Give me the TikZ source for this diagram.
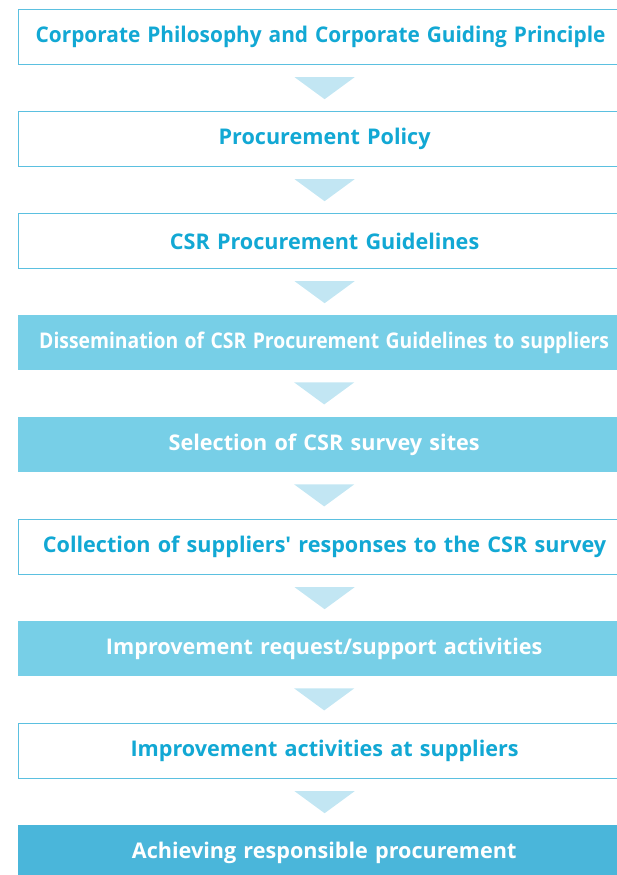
\documentclass[tikz,border=0pt]{standalone}
\usepackage{fontspec}
\setmainfont{Open Sans}
\usetikzlibrary{calc}
\definecolor{txtblue}{HTML}{12A8D4}
\definecolor{lineblue}{HTML}{5BC0E0}
\definecolor{fillblue}{HTML}{77CFE7}
\definecolor{darkblue}{HTML}{4AB6DA}
\definecolor{triblue}{HTML}{C2E6F3}
\tikzset{
  box/.style={anchor=north west, minimum width=612pt, minimum height=55pt, inner sep=0pt,
    text width=612pt, align=center, font=\fontsize{21.6}{26}\selectfont\bfseries},
  openbox/.style={box, draw=lineblue, line width=1.2pt, fill=white, text=txtblue},
  fillbox/.style={box, fill=fillblue, text=white},
  endbox/.style={box, fill=darkblue, text=white},
  tri/.style={fill=triblue}
}
\newcommand{\downtri}[1]{\fill[tri] ($(#1.south)+(-30,12)$) -- ($(#1.south)+(30,12)$) -- ($(#1.south)+(0,34)$) -- cycle;}
\begin{document}
\begin{tikzpicture}[x=1pt,y=-1pt]
\useasboundingbox (0,0) rectangle (617,875);
\clip (0,0) rectangle (617,875);
\node[openbox] (b1) at (18,9) {\hspace*{-8pt}\scalebox{0.965}[1]{Corporate Philosophy and Corporate Guiding Principle}};
\node[openbox] (b2) at (18,111) {Procurement Policy};
\node[openbox] (b3) at (18,213) {CSR Procurement Guidelines};
\node[fillbox] (b4) at (18,315) {\scalebox{0.895}[1]{Dissemination of CSR Procurement Guidelines to suppliers}};
\node[fillbox] (b5) at (18,417) {Selection of CSR survey sites};
\node[openbox] (b6) at (18,519) {Collection of suppliers\textquotesingle{} responses to the CSR survey};
\node[fillbox] (b7) at (18,621) {Improvement request/support activities};
\node[openbox] (b8) at (18,723) {Improvement activities at suppliers};
\node[endbox] (b9) at (18,825) {Achieving responsible procurement};
\downtri{b1}
\downtri{b2}
\downtri{b3}
\downtri{b4}
\downtri{b5}
\downtri{b6}
\downtri{b7}
\downtri{b8}
\end{tikzpicture}
\end{document}
